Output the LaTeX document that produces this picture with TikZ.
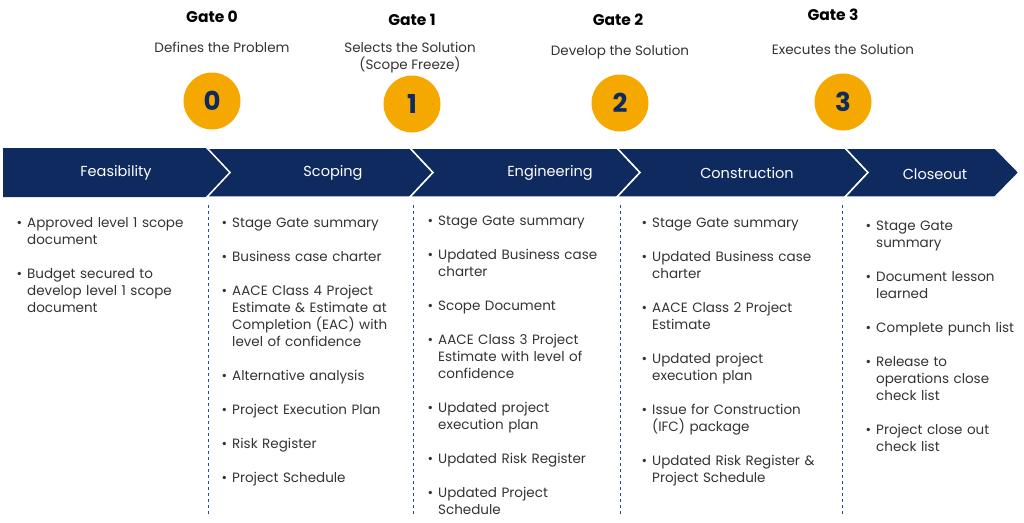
\documentclass[tikz,border=0pt]{standalone}
\usepackage{fontspec}
\setmainfont{Poppins}
\usepackage{enumitem}
\usetikzlibrary{positioning}
\definecolor{navy}{HTML}{0F2A5F}
\definecolor{gold}{HTML}{F5A800}
\definecolor{dashblue}{HTML}{1F4FA0}
\newcommand{\gatelist}[1]{\begin{itemize}[leftmargin=15pt,itemsep=17pt,topsep=0pt,parsep=0pt,partopsep=0pt,label=\textbullet]#1\end{itemize}}

\begin{document}
\begin{tikzpicture}[x=1pt,y=-1pt,
  chev/.style={fill=navy,draw=white,line width=1.5pt},
  phase/.style={text=white,font=\fontsize{14.5}{17}\selectfont},
  gatenum/.style={circle,fill=gold,minimum size=57pt,inner sep=0pt,font=\fontsize{26}{30}\selectfont\bfseries,text=navy},
  gatename/.style={font=\fontsize{15.5}{18}\selectfont\bfseries},
  gatetxt/.style={font=\fontsize{13.5}{17}\selectfont,align=center,text=black!80},
  col/.style={anchor=north west,inner sep=0pt,font=\fontsize{13.5}{17}\selectfont,text=black!80},
  sep/.style={dashblue,dashed,line width=0.9pt}]
  \useasboundingbox (0,0) rectangle (1024,522);

  % chevron band
  \fill[navy] (3,148) -- (207,148) -- (230,172.5) -- (207,197) -- (3,197) -- cycle;
  \draw[chev] (207,148) -- (410,148) -- (433,172.5) -- (410,197) -- (207,197) -- (230,172.5) -- cycle;
  \draw[chev] (410,148) -- (617,148) -- (640,172.5) -- (617,197) -- (410,197) -- (433,172.5) -- cycle;
  \draw[chev] (617,148) -- (845,148) -- (868,172.5) -- (845,197) -- (617,197) -- (640,172.5) -- cycle;
  \draw[chev] (845,148) -- (995,148) -- (1019,172.5) -- (995,197) -- (845,197) -- (868,172.5) -- cycle;

  \node[phase] (feas) at (116,173) {Feasibility};
  \node[phase] (scop) at (333,173) {Scoping};
  \node[phase] (engi) at (550,173) {Engineering};
  \node[phase] (cons) at (747,173) {Construction};
  \node[phase] (clos) at (935,174) {Closeout};

  % gates
  \node[gatenum] (g0) at (212,101) {0};
  \node[gatenum] (g1) at (412,104) {1};
  \node[gatenum] (g2) at (620,103) {2};
  \node[gatenum] (g3) at (843,102) {3};
  \node[gatename] (n0) at (212,17) {Gate 0};
  \node[gatename] (n1) at (412,20) {Gate 1};
  \node[gatename] (n2) at (618,20) {Gate 2};
  \node[gatename] (n3) at (833,15) {Gate 3};
  \node[gatetxt] (t0) at (222,47) {Defines the Problem};
  \node[gatetxt] (t1) at (410,58) {Selects the Solution\\(Scope Freeze)};
  \node[gatetxt] (t2) at (620,52) {Develop the Solution};
  \node[gatetxt] (t3) at (843,49) {Executes the Solution};

  % separators
  \foreach \x in {208,413,620,842}
    \draw[sep] (\x,205) -- (\x,515);

  % deliverables
  \node[col,text width=178pt] (l0) at (12,210) {\gatelist{
    \item Approved level 1 scope document
    \item Budget secured to develop level 1 scope document}};
  \node[col,text width=180pt] (l1) at (217,210) {\gatelist{
    \item Stage Gate summary
    \item Business case charter
    \item AACE Class 4 Project Estimate \& Estimate at Completion (EAC) with level of confidence
    \item Alternative analysis
    \item Project Execution Plan
    \item Risk Register
    \item Project Schedule}};
  \node[col,text width=182pt] (l2) at (423,208) {\gatelist{
    \item Stage Gate summary
    \item Updated Business case charter
    \item Scope Document
    \item AACE Class 3 Project Estimate with level of confidence
    \item Updated project execution plan
    \item Updated Risk Register
    \item Updated Project Schedule}};
  \node[col,text width=190pt] (l3) at (637,210) {\gatelist{
    \item Stage Gate summary
    \item Updated Business case charter
    \item AACE Class 2 Project Estimate
    \item Updated project execution plan
    \item Issue for Construction (IFC) package
    \item Updated Risk Register \& Project Schedule}};
  \node[col,text width=160pt] (l4) at (861,213) {\gatelist{
    \item Stage Gate summary
    \item Document lesson learned
    \item Complete punch list
    \item Release to operations close check list
    \item Project close out check list}};
\end{tikzpicture}
\end{document}
